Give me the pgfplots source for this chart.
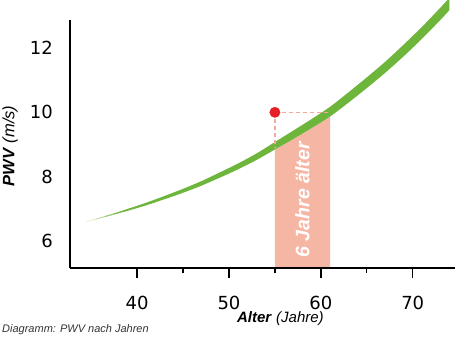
\documentclass[border=0pt]{standalone}
\usepackage{pgfplots}
\pgfplotsset{compat=1.18}
\usepgfplotslibrary{fillbetween}
\usepackage{fontspec}
\setmainfont{Liberation Sans}
\newfontfamily\dejavu{DejaVu Sans}
\definecolor{bandgreen}{RGB}{110,181,60}
\definecolor{salmon}{RGB}{246,182,164}
\definecolor{dashpink}{RGB}{244,168,156}
\definecolor{dotred}{RGB}{230,30,40}
\begin{document}
\begin{tikzpicture}
\begin{axis}[
  scale only axis, width=385pt, height=248pt,
  xmin=32.7, xmax=74.6, ymin=5.16, ymax=12.87,
  axis lines*=left, axis line style={line width=1.6pt, black},
  clip=false, axis on top,
  xtick={40,50,60,70}, minor xtick={45,55,65},
  ytick={6,8,10,12},
  tick align=outside,
  major tick length=10pt, minor tick length=5pt,
  every tick/.style={black, line width=1.3pt},
  ytick style={draw=none},
  /pgf/number format/assume math mode=true,
  xticklabel style={font=\dejavu\fontsize{18}{20}\selectfont, anchor=base, inner sep=0pt, yshift=-31pt},
  yticklabel style={font=\dejavu\fontsize{18}{20}\selectfont, anchor=east, inner sep=0pt, xshift=-7pt},
]
% band edges
\addplot[name path=U, draw=none, smooth] coordinates {
(33.5,6.52) (35,6.646) (37,6.817) (39,6.999) (41,7.19) (43,7.40) (45,7.62) (47,7.86) (49,8.13) (51,8.41) (53,8.72) (55,9.075) (57,9.43) (59,9.79) (61,10.17) (63,10.62) (65,11.085) (67,11.57) (69,12.10) (71,12.655) (73,13.25) (74,13.56)};
\addplot[name path=L, draw=none, smooth] coordinates {
(33.5,6.52) (35,6.634) (37,6.783) (39,6.941) (41,7.11) (43,7.30) (45,7.50) (47,7.72) (49,7.97) (51,8.23) (53,8.52) (55,8.845) (57,9.17) (59,9.51) (61,9.87) (63,10.30) (65,10.755) (67,11.23) (69,11.74) (71,12.285) (73,12.87) (74,13.18)};
\addplot[name path=B, draw=none] coordinates {(33,5.16) (75,5.16)};
% highlighted range under the curve
\addplot[fill=salmon, draw=none] fill between[of=U and B, soft clip={domain=55:61}];
% dashed guide lines
\addplot[dashpink, line width=1.2pt, dash pattern=on 4pt off 3pt] coordinates {(55,10) (61,10)};
\addplot[dashpink, line width=1.2pt, dash pattern=on 4pt off 3pt] coordinates {(55,10) (55,8.9)};
% band with faded start
\addplot[fill=bandgreen!15!white, draw=none] fill between[of=U and L, soft clip={domain=33.5:34.5}];
\addplot[fill=bandgreen!35!white, draw=none] fill between[of=U and L, soft clip={domain=34.5:35.5}];
\addplot[fill=bandgreen!55!white, draw=none] fill between[of=U and L, soft clip={domain=35.5:36.5}];
\addplot[fill=bandgreen!75!white, draw=none] fill between[of=U and L, soft clip={domain=36.5:37.5}];
\addplot[fill=bandgreen!90!white, draw=none] fill between[of=U and L, soft clip={domain=37.5:38.5}];
\addplot[fill=bandgreen, draw=none] fill between[of=U and L, soft clip={domain=38.5:74}];
% point
\addplot[only marks, mark=*, mark size=5.2pt, color=dotred] coordinates {(55,10)};
% rotated label
\node[rotate=90, text=white, font=\fontsize{19.5}{21}\selectfont\bfseries\itshape] at (axis cs:58,7.28) {6 Jahre älter};
% axis labels
\node[font=\fontsize{15}{17}\selectfont, anchor=center, yshift=-51pt] at (axis cs:55.6,5.16) {\textbf{\textit{Alter}} \textit{(Jahre)}};
\node[xshift=-60pt, yshift=122pt, rotate=90, anchor=center, font=\fontsize{16.5}{18}\selectfont] at (rel axis cs:0,0) {\textbf{\textit{PWV}} \textit{(m/s)}};
\node[xshift=-68pt, yshift=-62pt, font=\fontsize{11}{13}\selectfont\itshape, text=black!80, anchor=west, inner sep=0pt] at (rel axis cs:0,0) {Diagramm: PWV nach Jahren};
\coordinate (sw) at (rel axis cs:0,0);
\end{axis}
\pgfresetboundingbox
\useasboundingbox ([shift={(-70pt,-83pt)}]sw) rectangle ([shift={(387pt,268pt)}]sw);
\end{tikzpicture}
\end{document}
